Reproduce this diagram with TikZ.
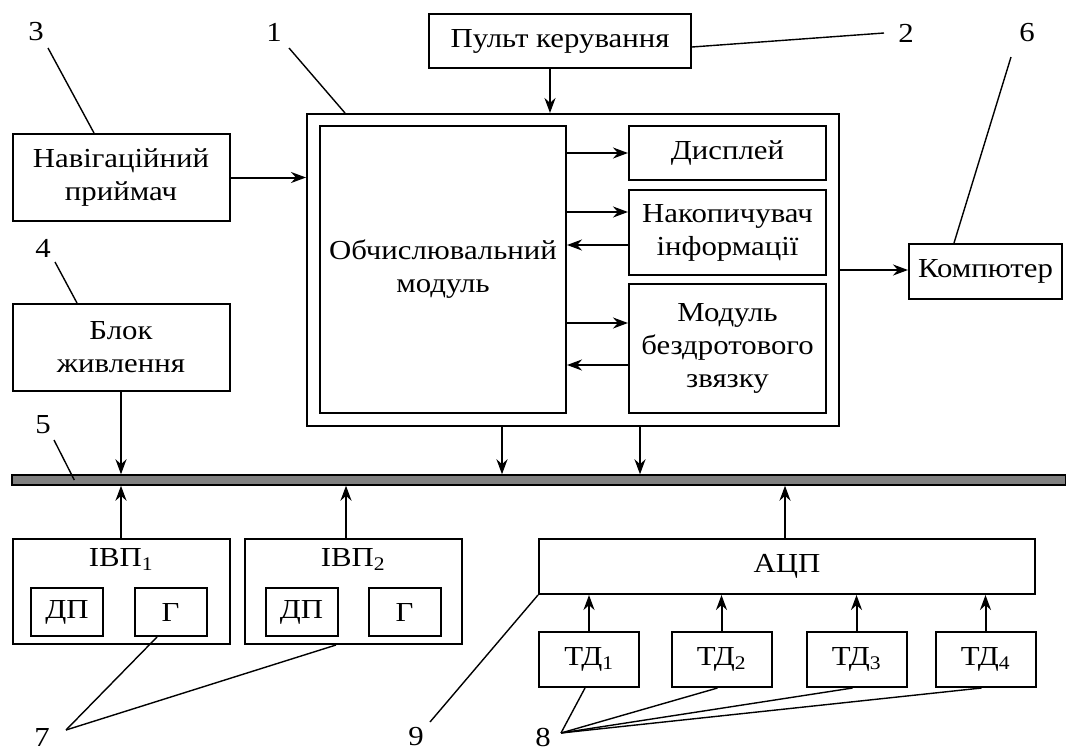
\documentclass[tikz,border=0pt]{standalone}
\usepackage{fontspec}
\setmainfont{Liberation Serif}[FakeStretch=1.12]
\usetikzlibrary{arrows.meta, positioning}
\newcommand{\nd}[1]{\textsubscript{#1}}

\begin{document}
\begin{tikzpicture}[x=1pt, y=-1pt, line width=2pt,
  >={Stealth[length=15pt, width=11pt]},
  blk/.style={draw, inner sep=0pt, align=center, font=\fontsize{27.5}{33}\selectfont},
  lead/.style={line width=1.4pt},
  num/.style={font=\fontsize{27.5}{30}\selectfont}]
\useasboundingbox (0,0) rectangle (1066,753);
\node[blk, minimum width=262pt, minimum height=54pt] (pult) at (560,41) {Пульт керування};
\node[blk, minimum width=217pt, minimum height=87pt] (nav) at (121,177.5) {Навігаційний\\приймач};
\node[blk, minimum width=217pt, minimum height=87pt] (blok) at (121,347.5) {Блок\\живлення};
\node[blk, minimum width=532pt, minimum height=312pt] (main) at (573,270) {};
\node[blk, minimum width=246pt, minimum height=287pt] (obch) at (443,269.5) {Обчислювальний\\модуль};
\node[blk, minimum width=197pt, minimum height=54pt] (disp) at (727.5,153) {Дисплей};
\node[blk, minimum width=197pt, minimum height=85pt] (nakop) at (727.5,232.5) {Накопичувач\\інформації};
\node[blk, minimum width=197pt, minimum height=129pt] (modul) at (727.5,348.5) {Модуль\\бездротового\\звязку};
\node[blk, minimum width=153pt, minimum height=55pt] (komp) at (985.5,271.5) {Компютер};
\node[draw, line width=1.4pt, fill=black!50, minimum width=1054pt, minimum height=10pt, inner sep=0pt] (bus) at (539,480) {};
\node[blk, minimum width=217pt, minimum height=105pt] (ivp1) at (121,591.5) {};
\node[blk, minimum width=217pt, minimum height=105pt] (ivp2) at (353,591.5) {};
\node[num, below=6pt of ivp1.north] (ivp1t) {ІВП\nd{1}};
\node[num, below=6pt of ivp2.north] (ivp2t) {ІВП\nd{2}};
\node[blk, minimum width=72pt, minimum height=48pt] (dp1) at (67,612) {ДП};
\node[blk, minimum width=72pt, minimum height=48pt] (g1) at (170.5,612) {Г};
\node[blk, minimum width=72pt, minimum height=48pt] (dp2) at (301.5,612) {ДП};
\node[blk, minimum width=72pt, minimum height=48pt] (g2) at (404.5,612) {Г};
\node[blk, minimum width=496pt, minimum height=55pt] (adc) at (787,566.5) {АЦП};
\foreach \i/\x in {1/589, 2/721.5, 3/856.5, 4/985.5}
  \node[blk, minimum width=100pt, minimum height=55pt] (td\i) at (\x,659.5) {ТД\nd{\i}};

\draw[->] (nav.east) -- (nav.east -| main.west);
\draw[->] ([xshift=-10pt]pult.south) -- ([xshift=-10pt]pult.south |- main.north);
\draw[->] (obch.east |- disp.west) -- (disp.west);
\draw[->] ([yshift=20.5pt]obch.east |- nakop.west) -- ([yshift=20.5pt]nakop.west);
\draw[->] ([yshift=-12.5pt]nakop.west) -- ([yshift=-12.5pt]obch.east |- nakop.west);
\draw[->] ([yshift=25.5pt]obch.east |- modul.west) -- ([yshift=25.5pt]modul.west);
\draw[->] ([yshift=-16.5pt]modul.west) -- ([yshift=-16.5pt]obch.east |- modul.west);
\draw[->] (main.east) -- (main.east -| komp.west);
\draw[->] (blok.south) -- (blok.south |- bus.north);
\draw[->] ([xshift=-71pt]main.south) -- ([xshift=-71pt]main.south |- bus.north);
\draw[->] ([xshift=67pt]main.south) -- ([xshift=67pt]main.south |- bus.north);
\draw[->] (ivp1.north) -- (ivp1.north |- bus.south);
\draw[->] ([xshift=-7pt]ivp2.north) -- ([xshift=-7pt]ivp2.north |- bus.south);
\draw[->] ([xshift=-2pt]adc.north) -- ([xshift=-2pt]adc.north |- bus.south);
\foreach \i in {1,...,4}
  \draw[->] (td\i.north) -- (td\i.north |- adc.south);

\node[num] (n1) at (274,32) {1};
\node[num] (n2) at (906,33) {2};
\node[num] (n3) at (36,32) {3};
\node[num] (n4) at (43,248) {4};
\node[num] (n5) at (43,425) {5};
\node[num] (n6) at (1027,33) {6};
\node[num] (n7) at (42,737) {7};
\node[num] (n8) at (543,737) {8};
\node[num] (n9) at (416,737) {9};
\coordinate (l1) at (289,48);
\coordinate (l2) at (884,33);
\coordinate (l3) at (48,48);
\coordinate (l4) at (55,262);
\coordinate (l5) at (54,440);
\coordinate (l6) at (1011,57);
\coordinate (l7) at (66,730);
\coordinate (l8) at (561,733);
\coordinate (l9) at (430,722);
\draw[lead] (l1) -- ([xshift=39pt]main.north west);
\draw[lead] (l2) -- ([yshift=-6pt]pult.east);
\draw[lead] (l3) -- ([xshift=82.5pt]nav.north west);
\draw[lead] (l4) -- ([xshift=65.5pt]blok.north west);
\draw[lead] (l5) -- ([xshift=63pt]bus.west);
\draw[lead] (l6) -- ([xshift=46pt]komp.north west);
\draw[lead] (l7) -- ([xshift=-13.5pt]g1.south);
\draw[lead] (l7) -- ([xshift=-17pt]ivp2.south);
\draw[lead] (l9) -- (adc.south west);
\foreach \i in {1,...,4}
  \draw[lead] (l8) -- ([xshift=-4pt]td\i.south);
\end{tikzpicture}
\end{document}
